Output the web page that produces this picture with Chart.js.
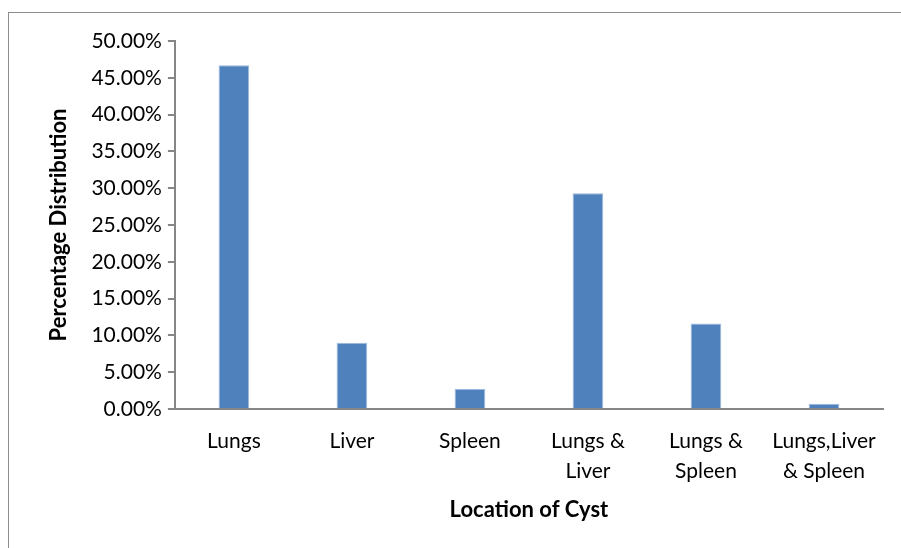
<!DOCTYPE html>
<html>
<head>
<meta charset="utf-8">
<script src="https://cdn.jsdelivr.net/npm/chart.js@4"></script>
<style>
  html, body { margin: 0; padding: 0; background: #fff; }
  #wrap { position: relative; width: 901px; height: 548px; overflow: hidden; }
  #frame { position: absolute; left: 8px; top: 12px; width: 900px; height: 600px; border-left: 1px solid #8c8c8c; border-top: 1px solid #8c8c8c; }
  canvas { position: absolute; left: 0; top: 0; }
</style>
</head>
<body>
<div id="wrap">
  <div id="frame"></div>
  <canvas id="cystChart" width="901" height="548"></canvas>
</div>
<script>
// Location of cyst vs percentage distribution (values in percent)
const categories = [
    ['Lungs'],
    ['Liver'],
    ['Spleen'],
    ['Lungs &', 'Liver'],
    ['Lungs &', 'Spleen'],
    ['Lungs,Liver', '& Spleen']
];
const percentages = [46.7, 9.0, 2.7, 29.3, 11.6, 0.7];
const yTicks = [0, 5, 10, 15, 20, 25, 30, 35, 40, 45, 50];

const axisColor = '#868686';
const fontFamily = 'Lato, "Open Sans", sans-serif';

const ctx = document.getElementById('cystChart').getContext('2d');
new Chart(ctx, {
    type: 'bar',
    data: {
        labels: categories,
        datasets: [{
            label: 'Percentage Distribution',
            data: percentages,
            backgroundColor: '#4F81BD',
            borderColor: '#9dbbe0',
            borderWidth: { left: 1, right: 1, top: 1, bottom: 0 },
            barPercentage: 0.26,
            categoryPercentage: 1.0
        }]
    },
    options: {
        responsive: false,
        animation: false,
        layout: { padding: { left: 42, right: 18, top: 41, bottom: 23 } },
        plugins: {
            legend: { display: false },
            tooltip: { enabled: false }
        },
        scales: {
            x: {
                grid: { display: false },
                border: { display: true, color: axisColor, width: 2 },
                ticks: {
                    color: '#000',
                    font: { family: fontFamily, size: 21, lineHeight: 1.43 },
                    maxRotation: 0,
                    autoSkip: false,
                    padding: 9
                },
                title: {
                    display: true,
                    text: 'Location of Cyst',
                    color: '#000',
                    font: { family: fontFamily, size: 22, weight: 'bold', lineHeight: 1.0 },
                    padding: { top: 4 }
                }
            },
            y: {
                min: 0,
                max: 50,
                afterBuildTicks: function(axis) {
                    axis.ticks = yTicks.map(v => ({ value: v }));
                },
                grid: {
                    drawOnChartArea: false,
                    drawTicks: true,
                    tickLength: 7,
                    color: axisColor,
                    lineWidth: 2
                },
                border: { display: true, color: axisColor, width: 2 },
                ticks: {
                    color: '#000',
                    font: { family: fontFamily, size: 21 },
                    padding: 6,
                    callback: function(v) { return v.toFixed(2) + '%'; }
                },
                title: {
                    display: true,
                    text: 'Percentage Distribution',
                    color: '#000',
                    font: { family: fontFamily, size: 22, weight: 'bold' },
                    padding: { bottom: 13 }
                }
            }
        }
    }
});
</script>
</body>
</html>
